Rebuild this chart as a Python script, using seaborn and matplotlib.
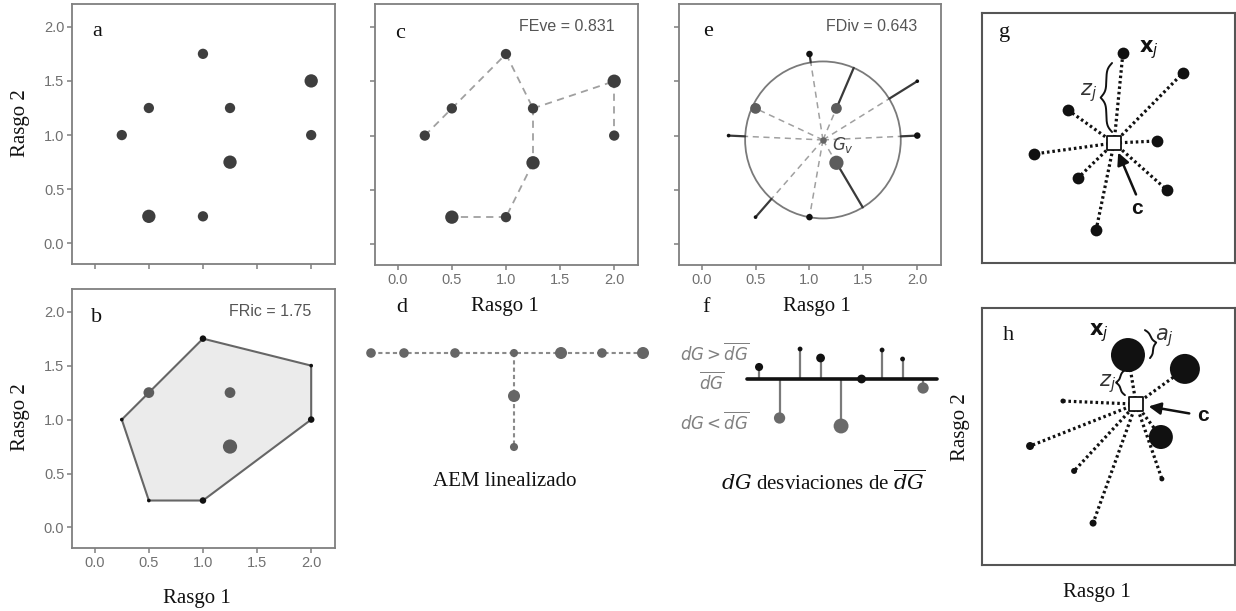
import numpy as np
import pandas as pd
import matplotlib
matplotlib.use("Agg")
import matplotlib.pyplot as plt
import seaborn as sns
from matplotlib.patches import Polygon, Circle

# ------------------------------------------------------------------ data
trait1 = [0.25, 0.5, 0.5, 1.0, 1.0, 1.25, 1.25, 2.0, 2.0]
trait2 = [1.0, 1.25, 0.25, 1.75, 0.25, 1.25, 0.75, 1.5, 1.0]
kind_ac = ["m", "m", "l", "m", "m", "m", "l", "l", "m"]
kind_be = ["bt", "gm", "bt", "bs", "bs", "gm", "gl", "bt", "bs"]
mst_edges = [(0, 1), (1, 3), (3, 5), (5, 7), (7, 8), (5, 6), (6, 4), (4, 2)]
gravity_center = [1.125, 0.96]
axis_ticks = [0.0, 0.5, 1.0, 1.5, 2.0]
tick_labels = ["0.0", "0.5", "1.0", "1.5", "2.0"]
fric_label = "FRic = 1.75"
feve_label = "FEve = 0.831"
fdiv_label = "FDiv = 0.643"

# d : linearised MST
aem_h_pos = [0, 33, 84, 143, 190, 231, 272]
aem_h_kind = ["m", "m", "m", "s", "l", "m", "l"]
aem_v_pos = [-43, -94]
aem_v_kind = ["l", "s"]
aem_junction = 143

# f : deviations from mean distance
dev_values = [12, -39, 30, 21, -47, 0, 29, 20, -9]
dev_kind = ["bs", "gm", "bt", "bm", "gl", "bm", "bt", "bt", "gm"]

# g
g_x = [5.57, 7.94, 3.40, 2.06, 6.92, 3.79, 7.31, 4.51]
g_y = [8.40, 7.60, 6.12, 4.36, 4.88, 3.40, 2.92, 1.32]
g_center = [5.22, 4.80]
# h
h_x = [5.77, 8.02, 7.07, 3.20, 1.90, 3.64, 7.11, 4.39]
h_y = [8.17, 7.63, 4.98, 6.38, 4.63, 3.66, 3.35, 1.63]
h_abund = [34, 30, 24, 5, 8, 6, 5, 7]
h_center = [6.09, 6.26]

# ------------------------------------------------------------------ style
sns.set_theme(style="ticks")
SERIF = ["Liberation Serif", "DejaVu Serif"]
SANS = ["Liberation Sans", "DejaVu Sans"]
plt.rcParams["font.family"] = SANS
plt.rcParams["mathtext.fontset"] = "dejavusans"

W, H = 1236, 611
fig = plt.figure(figsize=(W / 100, H / 100), dpi=100)
fig.patch.set_facecolor("white")


def rect(x0, y0, x1, y1):
    return [x0 / W, 1 - y1 / H, (x1 - x0) / W, (y1 - y0) / H]


def ftext(x, y, s, **kw):
    fig.text(x / W, 1 - y / H, s, **kw)


DARK = "#3e3e3e"
GREY = "#5c5c5c"
BLACK = "#111111"
pal = {"m": DARK, "l": DARK, "s": DARK, "gm": GREY, "gl": GREY,
       "bs": BLACK, "bt": BLACK, "bm": BLACK}
siz = {"m": 55, "l": 92, "s": 30, "gm": 60, "gl": 105,
       "bs": 22, "bt": 7, "bm": 28}


def dots(ax, x, y, kinds, palette=pal, sizes=siz, zorder=4):
    df = pd.DataFrame({"x": x, "y": y, "k": kinds})
    sns.scatterplot(data=df, x="x", y="y", hue="k", size="k",
                    palette={k: palette[k] for k in set(kinds)},
                    sizes={k: sizes[k] for k in set(kinds)},
                    linewidth=0, legend=False, ax=ax, zorder=zorder)
    ax.set_xlabel("")
    ax.set_ylabel("")


def style_trait_axes(ax, xlab, ylab):
    ax.set_xlim(-0.21, 2.22)
    ax.set_ylim(-0.19, 2.21)
    ax.set_xticks(axis_ticks)
    ax.set_yticks(axis_ticks)
    ax.set_xticklabels(tick_labels if xlab else [])
    ax.set_yticklabels(tick_labels if ylab else [])
    for s in ax.spines.values():
        s.set_visible(True)
        s.set_color("#7f7f7f")
        s.set_linewidth(1.3)
    ax.tick_params(length=3.5, width=1.1, color="#7f7f7f", labelcolor="#707070",
                   labelsize=10.5, pad=2, direction="out")
    ax.set_facecolor("white")


P = np.column_stack([trait1, trait2])

# ---- a
ax_a = fig.add_axes(rect(72, 4, 335, 264))
dots(ax_a, trait1, trait2, kind_ac)
style_trait_axes(ax_a, False, True)

# ---- b
ax_b = fig.add_axes(rect(72, 289, 335, 548))


def hull(points):
    pts = sorted(map(tuple, points))

    def cross(o, a, b):
        return (a[0] - o[0]) * (b[1] - o[1]) - (a[1] - o[1]) * (b[0] - o[0])
    lo, up = [], []
    for p in pts:
        while len(lo) >= 2 and cross(lo[-2], lo[-1], p) <= 0:
            lo.pop()
        lo.append(p)
    for p in reversed(pts):
        while len(up) >= 2 and cross(up[-2], up[-1], p) <= 0:
            up.pop()
        up.append(p)
    return lo[:-1] + up[:-1]


hv = hull(P)
ax_b.add_patch(Polygon(hv, closed=True, fc="#ebebeb", ec="#666666", lw=1.5, zorder=2))
dots(ax_b, trait1, trait2, kind_be)
style_trait_axes(ax_b, True, True)
ax_b.text(2.0, 2.0, fric_label, ha="right", va="center", fontsize=11.5, color="#555555")

# ---- c
ax_c = fig.add_axes(rect(375, 4, 638, 265))
for i, j in mst_edges:
    ax_c.plot([P[i, 0], P[j, 0]], [P[i, 1], P[j, 1]], color="#a0a0a0",
              lw=1.3, ls=(0, (4, 3)), zorder=2)
dots(ax_c, trait1, trait2, kind_ac)
style_trait_axes(ax_c, True, False)
ax_c.text(2.0, 2.0, feve_label, ha="right", va="center", fontsize=11.5, color="#555555")

# ---- e
ax_e = fig.add_axes(rect(679, 4, 941, 265))
G = np.array(gravity_center)
dist = np.linalg.norm(P - G, axis=1)
R = dist.mean()
ax_e.add_patch(Circle(G, R, fill=False, ec="#7a7a7a", lw=1.3, zorder=2))
for p, di in zip(P, dist):
    u = (p - G) / di
    inner = G + u * min(di, R)
    outer = G + u * max(di, R)
    ax_e.plot([G[0], inner[0]], [G[1], inner[1]], color="#a0a0a0", lw=1.1,
              ls=(0, (4, 3)), zorder=2)
    ax_e.plot([inner[0], outer[0]], [inner[1], outer[1]], color="#3a3a3a",
              lw=1.6, zorder=3)
dots(ax_e, trait1, trait2, kind_be)
sns.scatterplot(x=[G[0]], y=[G[1]], color="#666666", s=22, linewidth=0, ax=ax_e, zorder=5)
ax_e.text(G[0] + 0.08, G[1] - 0.05, "$G_v$", fontsize=12, color="#444444",
          ha="left", va="center")
style_trait_axes(ax_e, True, False)
ax_e.set_xlabel("")
ax_e.set_ylabel("")
ax_e.text(2.0, 2.0, fdiv_label, ha="right", va="center", fontsize=11.5, color="#555555")

# ---- d
ax_d = fig.add_axes(rect(361, 343, 653, 457))
ax_d.plot(aem_h_pos, [0] * len(aem_h_pos), color="#8a8a8a", lw=1.5,
          ls=(0, (2, 1.5)), zorder=2)
ax_d.plot([aem_junction] * 3, [0] + aem_v_pos, color="#8a8a8a", lw=1.5,
          ls=(0, (2, 1.5)), zorder=2)
dsiz = {"m": 48, "l": 75, "s": 34}
dpal = {"m": "#666666", "l": "#666666", "s": "#666666"}
dots(ax_d, aem_h_pos + [aem_junction] * 2, [0] * len(aem_h_pos) + aem_v_pos,
     aem_h_kind + aem_v_kind, palette=dpal, sizes=dsiz)
ax_d.set_xlim(-10, 282)
ax_d.set_ylim(-104, 10)
ax_d.axis("off")

# ---- f
ax_f = fig.add_axes(rect(740, 340, 945, 435))
xs = np.arange(len(dev_values))
ax_f.vlines(xs, 0, dev_values, color="#7a7a7a", lw=1.6, zorder=2)
ax_f.plot([xs[0] - 0.6, xs[-1] + 0.7], [0, 0], color="#111111", lw=2.6, zorder=3)
fpal = {"bs": BLACK, "bt": BLACK, "bm": BLACK, "gm": "#6a6a6a", "gl": "#6a6a6a"}
fsiz = {"bs": 34, "bt": 12, "bm": 40, "gm": 66, "gl": 115}
dots(ax_f, xs, dev_values, dev_kind, palette=fpal, sizes=fsiz)
ax_f.set_xlim(-0.93, 9.07)
ax_f.set_ylim(-56, 39)
ax_f.axis("off")

# ---- g
ax_g = fig.add_axes(rect(982, 13, 1235, 263))
ax_h = fig.add_axes(rect(982, 308, 1235, 565))


def brace(ax, p0, p1, width, side=1, beta=22.0, n=300, **kw):
    p0 = np.asarray(p0, float)
    p1 = np.asarray(p1, float)
    L = np.linalg.norm(p1 - p0)
    u = (p1 - p0) / L
    nrm = np.array([-u[1], u[0]]) * side
    t = np.linspace(0, 1, n)
    half = t[: n // 2]
    yh = 1 / (1 + np.exp(-beta * (half - half[0]))) + \
        1 / (1 + np.exp(-beta * (half - half[-1])))
    yy = np.concatenate([yh, yh[::-1]]) - 0.5
    pts = p0[None, :] + (t * L)[:, None] * u[None, :] + (yy * width)[:, None] * nrm[None, :]
    ax.plot(pts[:, 0], pts[:, 1], **kw)


for px, py in zip(g_x, g_y):
    ax_g.plot([g_center[0], px], [g_center[1], py], color="#111111", lw=2.3,
              ls=(0, (0.8, 0.9)), zorder=2)
sns.scatterplot(x=g_x, y=g_y, color="#111111", s=72, linewidth=0, ax=ax_g, zorder=4)
sns.scatterplot(x=[g_center[0]], y=[g_center[1]], marker="s", s=110, color="white",
                edgecolor="#111111", linewidth=1.3, ax=ax_g, zorder=5)
brace(ax_g, (5.14, 8.0), (5.14, 5.24), 0.45, side=-1, color="#111111", lw=1.4, zorder=3)
ax_g.text(6.2, 8.55, r"$\mathbf{x}_j$", fontsize=15, ha="left", va="center", color="#111111")
ax_g.text(4.2, 6.8, r"$z_j$", fontsize=15, ha="center", va="center", color="#333333")
ax_g.annotate("", xy=(5.34, 4.52), xytext=(6.13, 2.64),
              arrowprops=dict(arrowstyle="-|>,head_length=0.6,head_width=0.3",
                              color="#111111", lw=1.8))
ax_g.text(6.13, 2.2, "c", fontsize=15, fontweight="bold", ha="center", va="center",
          color="#111111")

# ---- h
hs = [(d * 0.72) ** 2 for d in h_abund]
for px, py in zip(h_x, h_y):
    ax_h.plot([h_center[0], px], [h_center[1], py], color="#111111", lw=2.3,
              ls=(0, (0.8, 0.9)), zorder=2)
sns.scatterplot(x=h_x, y=h_y, color="#111111", s=hs, linewidth=0, ax=ax_h, zorder=4)
sns.scatterplot(x=[h_center[0]], y=[h_center[1]], marker="s", s=110, color="white",
                edgecolor="#111111", linewidth=1.3, ax=ax_h, zorder=5)
brace(ax_h, (5.65, 7.59), (5.65, 6.61), 0.35, side=-1, beta=14, color="#111111", lw=1.4, zorder=3)
brace(ax_h, (6.44, 9.14), (6.64, 8.05), 0.35, side=1, beta=14, color="#111111", lw=1.4, zorder=3)
ax_h.text(4.6, 9.05, r"$\mathbf{x}_j$", fontsize=15, ha="center", va="center", color="#111111")
ax_h.text(4.95, 7.05, r"$z_j$", fontsize=15, ha="center", va="center", color="#333333")
ax_h.text(7.2, 8.85, r"$a_j$", fontsize=15, ha="center", va="center", color="#333333")
ax_h.annotate("", xy=(6.48, 6.19), xytext=(8.30, 5.88),
              arrowprops=dict(arrowstyle="-|>,head_length=0.6,head_width=0.3",
                              color="#111111", lw=1.8))
ax_h.text(8.75, 5.8, "c", fontsize=15, fontweight="bold", ha="center", va="center",
          color="#111111")

for ax in (ax_g, ax_h):
    ax.set_xlim(0, 10)
    ax.set_ylim(0, 10)
    ax.set_xticks([])
    ax.set_yticks([])
    ax.set_xlabel("")
    ax.set_ylabel("")
    for s in ax.spines.values():
        s.set_visible(True)
        s.set_color("#555555")
        s.set_linewidth(1.5)

# ------------------------------------------------------------------ labels
lab = dict(family=SERIF, fontsize=15, color="#111111", ha="center", va="center")
ftext(20, 123, "Rasgo 2", rotation=90, **lab)
ftext(20, 417, "Rasgo 2", rotation=90, **lab)
ftext(960, 427, "Rasgo 2", rotation=90, **lab)
ftext(197, 598, "Rasgo 1", **lab)
ftext(505, 307, "Rasgo 1", **lab)
ftext(817, 307, "Rasgo 1", **lab)
ftext(1097, 593, "Rasgo 1", **lab)
ftext(505, 482, "AEM linealizado", **lab)
ftext(823, 483, r"$dG$ desviaciones de $\overline{dG}$", math_fontfamily="dejavuserif", **lab)

letters = dict(family=SERIF, fontsize=16, color="#111111", ha="center", va="center")
for ch, (x, y) in {"a": (97, 32), "b": (97, 317), "c": (400, 33), "d": (402, 307),
                   "e": (708, 32), "f": (706, 307), "g": (1005, 33),
                   "h": (1008, 335)}.items():
    ftext(x, y, ch, **letters)

fl = dict(fontsize=12, color="#808080", ha="center", va="center")
ftext(715, 353, r"$dG > \overline{dG}$", **fl)
ftext(712, 381, r"$\overline{dG}$", **fl)
ftext(715, 422, r"$dG < \overline{dG}$", **fl)

fig.savefig("out.png", dpi=100, facecolor="white")
